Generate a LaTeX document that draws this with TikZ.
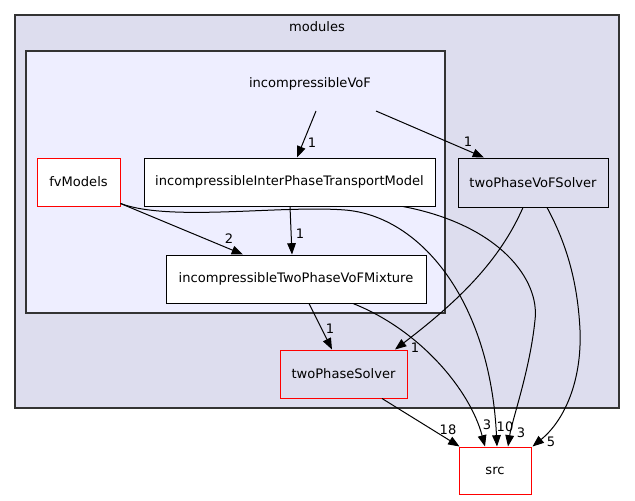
\documentclass[tikz,border=0pt]{standalone}
\usepackage{fontspec}
\setmainfont{DejaVu Sans}
\usetikzlibrary{arrows.meta,calc}
\definecolor{outerfill}{HTML}{DDDDEE}
\definecolor{innerfill}{HTML}{EEEEFF}
\definecolor{clusterline}{HTML}{333333}
\begin{document}
\begin{tikzpicture}[x=0.75pt,y=-0.75pt,
  txt/.style={font=\fontsize{9.8}{12}\selectfont, inner sep=0pt},
  cluster/.style={draw=clusterline, line width=0.8pt},
  box/.style={draw=black, fill=white, line width=0.75pt, minimum height=36pt, inner sep=0pt, font=\fontsize{9.8}{12}\selectfont},
  redbox/.style={box, draw=red},
  edge/.style={draw=black, line width=0.75pt, -{Triangle[length=8.5pt,width=6.5pt]}},
  elabel/.style={txt}
]
\useasboundingbox (0,0) rectangle (635,500);
\fill[white] (0,0) rectangle (635,500);
% clusters
\draw[cluster, fill=outerfill] (15,15) rectangle (619,408);
\node[txt] (modlabel) at (317,27) {modules};
\draw[cluster, fill=innerfill] (26,51) rectangle (445,313);
\node[txt] (voflabel) at (310,84) {incompressibleVoF};
\coordinate (vofA) at (316,111);
\coordinate (vofB) at (376,111);
% nodes
\node[redbox, minimum width=62.25pt] (fv) at (78.5,182) {fvModels};
\node[box, minimum width=218.25pt] (ipt) at (289.5,182) {incompressibleInterPhaseTransportModel};
\node[box, minimum width=195pt] (mix) at (296,279) {incompressibleTwoPhaseVoFMixture};
\node[box, fill=outerfill, minimum width=112.5pt, minimum height=36.75pt] (vofs) at (533,182.5) {twoPhaseVoFSolver};
\node[redbox, fill=outerfill, minimum width=95.25pt] (tps) at (343.5,374) {twoPhaseSolver};
\node[redbox, minimum width=54pt, minimum height=35.25pt] (src) at (495,470.5) {src};
% edges
\draw[edge] (vofA) -- ($(ipt.north)+(7.5,0)$);
\draw[edge] (vofB) -- ($(vofs.north)+(-49,0)$);
\draw[edge] ($(fv.south east)+(0,-3)$) -- ($(mix.north)+(-53,0)$);
\draw[edge] ($(fv.south east)+(0,-3)$) .. controls (170,222) and (280,205) .. (345,210) .. controls (420,216) and (490,300) .. ($(src.north)+(2,0)$);
\draw[edge] ($(ipt.south)+(113.5,0)$) .. controls (500,225) and (540,280) .. (535,320) .. controls (530,370) and (512,420) .. ($(src.north)+(13,0)$);
\draw[edge] ($(mix.south)+(57,0)$) .. controls (420,330) and (470,390) .. ($(src.north)+(-10,0)$);
\draw[edge] ($(vofs.south)+(-10,0)$) .. controls (500,260) and (460,300) .. ($(tps.north)+(51.5,0)$);
\draw[edge] ($(vofs.south)+(14,0)$) .. controls (570,250) and (578,290) .. (580,330) .. controls (582,380) and (565,420) .. ($(src.north east)+(1,0)$);
\draw[edge] ($(tps.south)+(38.5,0)$) -- ($(src.north west)+(1,0)$);
\draw[edge] ($(ipt.south)+(0.5,0)$) -- ($(mix.north)+(-4,0)$);
\draw[edge] ($(mix.south)+(13,0)$) -- ($(tps.north)+(-11.5,0)$);
% edge labels
\node[elabel] (l1) at (312,143) {1};
\node[elabel] (l2) at (468,142) {1};
\node[elabel] (l3) at (229,239) {2};
\node[elabel] (l4) at (300,234) {1};
\node[elabel] (l5) at (330,329) {1};
\node[elabel] (l6) at (415,348) {1};
\node[elabel] (l7) at (448,430) {18};
\node[elabel] (l8) at (487,425) {3};
\node[elabel] (l9) at (505,427) {10};
\node[elabel] (l10) at (521,433) {3};
\node[elabel] (l11) at (551,442) {5};
\end{tikzpicture}
\end{document}
